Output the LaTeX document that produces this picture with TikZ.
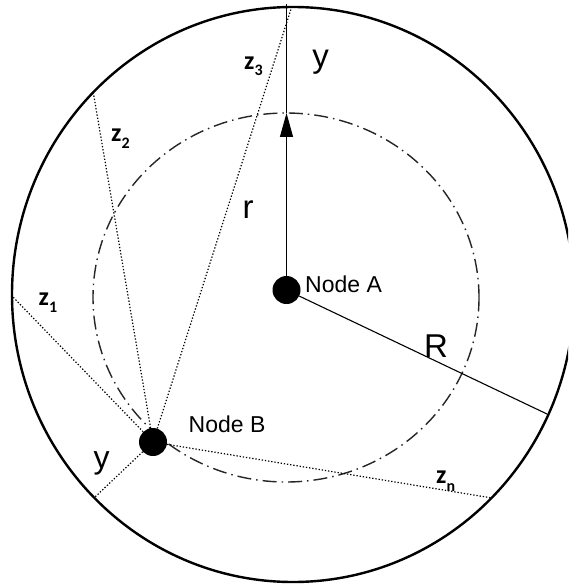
\documentclass[tikz,border=0pt]{standalone}
\usepackage{fontspec}
\setmainfont{Liberation Sans}
\newfontfamily\carlfont{Carlito}
\usetikzlibrary{arrows.meta}
\begin{document}
\begin{tikzpicture}[x=1pt,y=-1pt,
  dot/.style={circle,fill=black,inner sep=0pt,minimum size=28pt},
  dotline/.style={line width=1.2pt,dash pattern=on 1.3pt off 1.9pt},
  solidline/.style={line width=1.1pt},
  biglbl/.style={font=\fontsize{33}{33}\selectfont,anchor=base,inner sep=0pt},
  nodelbl/.style={font=\fontsize{23}{23}\selectfont,anchor=base west,inner sep=0pt},
  zlbl/.style={font=\carlfont\bfseries\fontsize{26}{26}\selectfont,anchor=base west,inner sep=0pt}]
\useasboundingbox (0,0) rectangle (568,588);
\fill[white] (0,0) rectangle (568,588);
\clip (0,0) rectangle (568,588);
% outer boundary and inner dash-dot ellipse
\draw[line width=2.4pt] (293,294.5) ellipse [x radius=281, y radius=287.5];
\draw[line width=1.4pt,black!85,dash pattern=on 14pt off 5pt on 1.5pt off 5pt] (286,297.5) ellipse [x radius=193, y radius=184.5];
% nodes
\node[dot] (A) at (286.5,290) {};
\node[dot] (B) at (153,442) {};
% free ends
\coordinate (atop) at (286.5,4);
\coordinate (tip) at (286.5,113);
\coordinate (Rend) at (547,414);
\coordinate (z1e) at (13,297);
\coordinate (z2e) at (93,91);
\coordinate (z3e) at (292,6);
\coordinate (zne) at (492,498);
\coordinate (ye) at (95,497);
% connectors
\draw[solidline,-{Triangle[length=24pt,width=13pt]}] (A) -- (tip);
\draw[solidline] (tip) -- (atop);
\draw[solidline] (A) -- (Rend);
\draw[dotline] (B) -- (z1e);
\draw[dotline] (B) -- (z2e);
\draw[dotline] (B) -- (z3e);
\draw[dotline] (B) -- (zne);
\draw[dotline] (B) -- (ye);
% labels
\node[biglbl] (ytop) at (320.5,68) {y};
\node[biglbl] (rl) at (248,218) {r};
\node[biglbl] (Rl) at (436,357) {R};
\node[biglbl,font=\fontsize{32}{32}\selectfont] (ybot) at (101.5,468) {y};
\node[nodelbl] (la) at (305,292) {Node A};
\node[nodelbl] (lb) at (188.5,432) {Node B};
\node[zlbl] (z1) at (38.5,305) {z\raisebox{-7pt}{\fontsize{16}{16}\selectfont 1}};
\node[zlbl] (z2) at (111,142) {z\raisebox{-7pt}{\fontsize{16}{16}\selectfont 2}};
\node[zlbl] (z3) at (244,70) {z\raisebox{-6pt}{\fontsize{16}{16}\selectfont 3}};
\node[zlbl] (zn) at (436,483) {z\raisebox{-8pt}{\fontsize{16}{16}\selectfont n}};
\end{tikzpicture}
\end{document}
